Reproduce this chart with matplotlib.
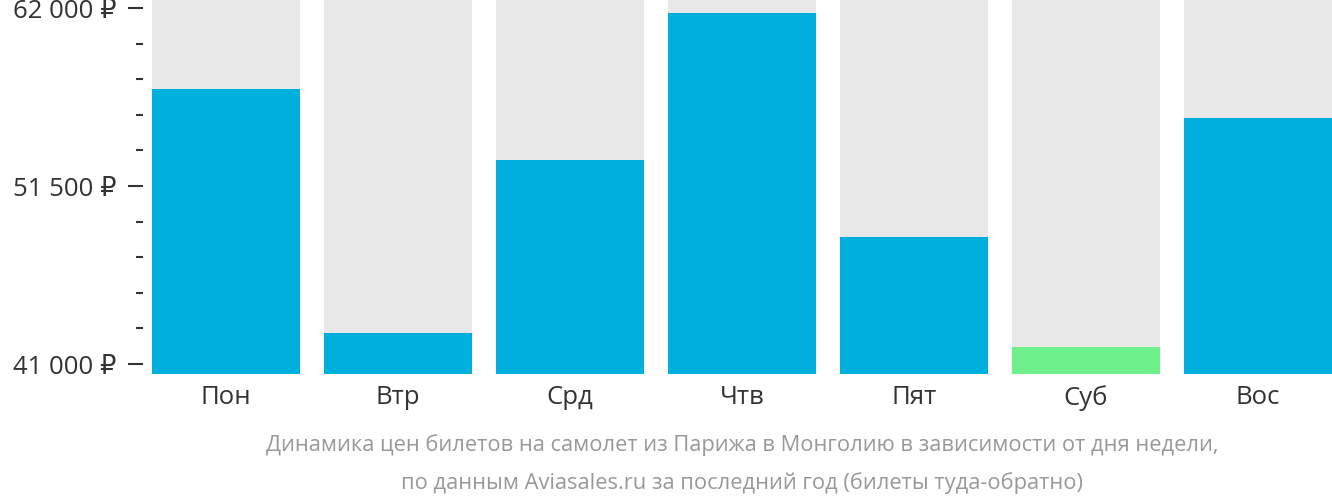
import numpy as np
from matplotlib import pyplot as plt
from matplotlib.ticker import FixedLocator, FuncFormatter

plt.rcParams['font.family'] = ['Open Sans', 'DejaVu Sans']

# data
days = ['Пон', 'Втр', 'Срд', 'Чтв', 'Пят', 'Суб', 'Вос']
prices = [57200, 42810, 53010, 61680, 48470, 41990, 55490]
cheapest = 'Суб'
major_ticks = [41000, 51500, 62000]
minor_ticks = [43100, 45200, 47300, 49400, 53600, 55700, 57800, 59900]
caption = ('Динамика цен билетов на самолет из Парижа в Монголию в зависимости от дня недели,\n'
           'по данным Aviasales.ru за последний год (билеты туда-обратно)')

W, H = 1332, 502
fig = plt.figure(figsize=(W / 100, H / 100), dpi=100)
# axes box in pixels: left 143, right 1332, top 0, bottom 375
ax = fig.add_axes([143 / W, (H - 375) / H, (1332 - 143) / W, 375 / H])

ymin, ymax = 40410, 62530
x = np.arange(len(days))
width = 0.86
ax.bar(x, ymax - ymin, width, bottom=ymin, color='#e8e8e8', linewidth=0)
colors = ['#6ef08a' if d == cheapest else '#00b0dc' for d in days]
ax.bar(x, np.array(prices) - ymin, width, bottom=ymin, color=colors, linewidth=0)

ax.set_xlim(-0.43 - 9 / 172, 6.43)
ax.set_ylim(ymin, ymax)
for s in ax.spines.values():
    s.set_visible(False)

ax.set_xticks(x)
ax.set_xticklabels(days)
ax.tick_params(axis='x', length=0, pad=7, labelsize=18.5, labelcolor='#333333')

ax.yaxis.set_major_locator(FixedLocator(major_ticks))
ax.yaxis.set_minor_locator(FixedLocator(minor_ticks))
ax.yaxis.set_major_formatter(FuncFormatter(lambda v, p: '{:,.0f} ₽'.format(v).replace(',', ' ')))
ax.tick_params(axis='y', which='major', length=11, width=1.5, color='#333333', pad=8,
               labelsize=18.5, labelcolor='#333333')
ax.tick_params(axis='y', which='minor', length=5, width=1.5, color='#333333')

fig.text(742 / W, 1 - 464 / H, caption, ha='center', va='center', fontsize=15.75,
         color='#999999', linespacing=1.95)

plt.savefig('out.png', dpi=100)
